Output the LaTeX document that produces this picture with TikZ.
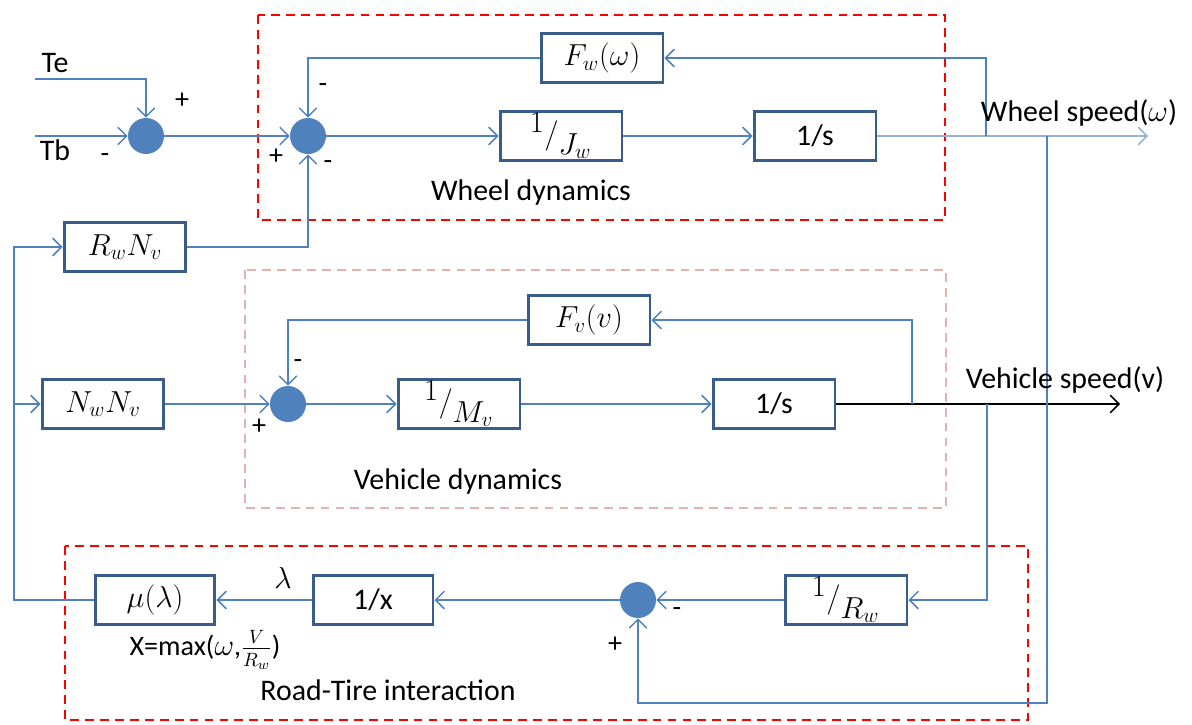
\documentclass[tikz,border=0pt]{standalone}
\usepackage{fontspec}
\setmainfont{Carlito}
\usetikzlibrary{arrows.meta}
\definecolor{lineblue}{HTML}{4F81BD}
\definecolor{boxblue}{HTML}{385D8A}
\definecolor{outblue}{HTML}{95B3D7}
\definecolor{pinkdash}{HTML}{E6B0AE}
\tikzset{
  blk/.style={draw=boxblue, line width=1.7pt, fill=white, minimum width=2.44cm, minimum height=0.98cm, inner sep=0pt, font=\fontsize{17}{20}\selectfont},
  sumj/.style={circle, fill=lineblue, minimum size=0.72cm, inner sep=0pt},
  sig/.style={draw=lineblue, line width=0.85pt},
  arr/.style={sig, -{Straight Barb[length=5pt,width=10pt]}},
  lbl/.style={font=\fontsize{17}{20}\selectfont, inner sep=0pt},
  sgn/.style={font=\fontsize{16}{18}\selectfont, inner sep=0pt},
  redbox/.style={draw=red, line width=1.1pt, dash pattern=on 5pt off 3.5pt},
  pinkbox/.style={draw=pinkdash, line width=1pt, dash pattern=on 5pt off 3.5pt}
}
% slanted fraction: raised numerator, lowered denominator
\newcommand{\slashfrac}[2]{${}^{\textstyle #1}\big/{}_{\textstyle #2}$}
\begin{document}
\begin{tikzpicture}[x=0.02cm, y=-0.02cm]
\useasboundingbox (0,0) rectangle (1192,724);

% group frames
\draw[redbox] (258,15) rectangle (945,220);
\draw[pinkbox] (245,270) rectangle (946,508);
\draw[redbox] (65,546) rectangle (1028,720);

% wheel dynamics
\node[sumj] (j1) at (146,136) {};
\node[sumj] (j2) at (308,136) {};
\node[blk] (fw) at (602,58) {$F_w(\omega)$};
\node[blk] (jw) at (561,136) {\slashfrac{1}{J_w}};
\node[blk] (s1) at (815,136) {1/s};
\node[blk] (rn) at (125,247) {$R_wN_v$};

% vehicle dynamics
\node[blk] (fv) at (589,320) {$F_v(v)$};
\node[sumj] (j3) at (288,404) {};
\node[blk] (mv) at (459,404) {\slashfrac{1}{M_v}};
\node[blk] (s2) at (774,404) {1/s};
\node[blk] (nn) at (103,404) {$N_wN_v$};

% road-tire interaction
\node[blk, minimum width=2.4cm] (mu) at (155,600) {$\mu(\lambda)$};
\node[blk, minimum width=2.4cm] (ix) at (373,600) {1/x};
\node[sumj] (j4) at (638,600) {};
\node[blk] (rw) at (846,600) {\slashfrac{1}{R_w}};

% branch points and free ends
\coordinate (te) at (35,79);
\coordinate (tb) at (35,136);
\coordinate (wout) at (1148,136);
\coordinate (wa) at (986,136);
\coordinate (wb) at (1047,136);
\coordinate (vout) at (1120,404);
\coordinate (va) at (912,404);
\coordinate (vb) at (987,404);
\coordinate (rail) at (14,600);
\coordinate (railn) at (14,404);

% torque inputs
\draw[arr] (te) -| (j1.north);
\draw[arr] (tb) -- (j1.west);
\draw[arr] (j1) -- (j2.west);
\draw[arr] (j2) -- (jw.west);
\draw[arr] (jw) -- (s1.west);
\draw[draw=outblue, line width=0.85pt, -{Straight Barb[length=5pt,width=10pt]}] (s1.east) -- (wout);
\draw[arr] (wa) |- (fw.east);
\draw[arr] (fw.west) -| (j2.north);
\draw[arr] (rn.east) -| (j2.south);

% left rail
\draw[arr] (mu.west) -- (rail) |- (rn.west);
\draw[arr] (railn) -- (nn.west);

% vehicle loop
\draw[arr] (nn.east) -- (j3.west);
\draw[arr] (j3) -- (mv.west);
\draw[arr] (mv) -- (s2.west);
\draw[line width=0.85pt, -{Straight Barb[length=5pt,width=10pt]}] (s2.east) -- (vout);
\draw[arr] (va) |- (fv.east);
\draw[arr] (fv.west) -| (j3.north);

% slip computation
\draw[arr] (vb) |- (rw.east);
\draw[arr] (rw.west) -- (j4.east);
\draw[arr] (j4.west) -- (ix.east);
\draw[arr] (ix.west) -- (mu.east);
\draw[arr] (wb) -- (1047,703) -| (j4.south);

% signs
\node[sgn] (p1) at (182,101) {+};
\node[sgn] (m1) at (105,158) {-};
\node[sgn] (m2a) at (323,88) {-};
\node[sgn] (p2) at (276,157) {+};
\node[sgn] (m2b) at (328,165) {-};
\node[sgn] (m3) at (298,364) {-};
\node[sgn] (p3) at (259,427) {+};
\node[sgn] (m4) at (677,612) {-};
\node[sgn] (p4) at (615,645) {+};

% labels
\node[lbl] (lte) at (55,63) {Te};
\node[lbl] (ltb) at (55,150) {Tb};
\node[lbl] (lwd) at (531,193) {Wheel dynamics};
\node[lbl] (lws) at (1079,113) {Wheel speed($\omega$)};
\node[lbl] (lvs) at (1065,380) {Vehicle speed(v)};
\node[lbl] (lvd) at (458,482) {Vehicle dynamics};
\node[lbl] (llam) at (283,578) {$\lambda$};
\node[lbl, font=\fontsize{16}{18}\selectfont] (lx) at (205,650) {X=max($\omega$,$\frac{V}{R_w}$)};
\node[lbl] (lrt) at (388,690) {Road-Tire interaction};
\end{tikzpicture}
\end{document}
